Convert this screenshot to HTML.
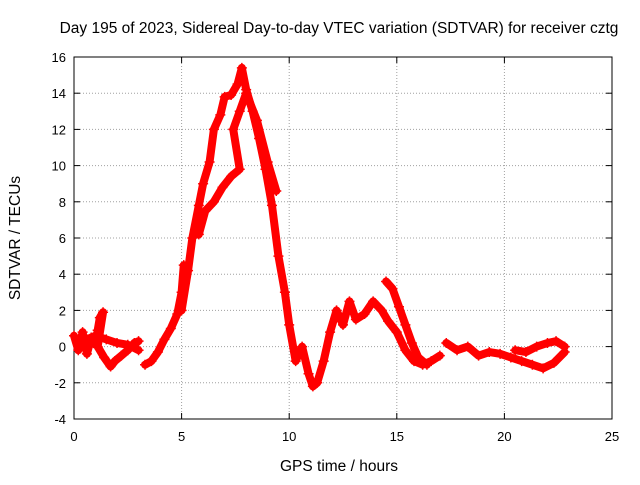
<!DOCTYPE html>
<html><head><meta charset="utf-8"><style>
body{margin:0;background:#fff;}
svg{font-family:"Liberation Sans",sans-serif;font-size:13px;}
</style></head><body>
<svg id="chart" width="640" height="480">
<rect width="640" height="480" fill="#fff"/>
<text x="339" y="33" text-anchor="middle" font-size="15.5">Day 195 of 2023, Sidereal Day-to-day VTEC variation (SDTVAR) for receiver cztg</text>
<text x="339" y="471" text-anchor="middle" font-size="15.5">GPS time / hours</text>
<text transform="translate(20,238) rotate(-90)" text-anchor="middle" font-size="15.5">SDTVAR / TECUs</text>
<g id="grid"></g><g id="axes"></g><g id="series"></g>
</svg>
<script>
const xTicks=[0,5,10,15,20,25];
const yTicks=[-4,-2,0,2,4,6,8,10,12,14,16];
// strands: times (hours) and SDTVAR values
const s1t=[0,0.2,0.4,0.6,0.8,1.0,1.1,1.2,1.35,1.1,1.4,1.7,1.9,2.2,2.5,2.8,3.0];
const s1v=[0.6,-0.2,0.8,-0.4,0.5,0.1,0.9,1.6,1.9,0.0,-0.6,-1.1,-0.8,-0.5,-0.2,0.2,0.3];
const s2t=[0.2,0.6,1.0,1.5,2.0,2.5,3.0];
const s2v=[0.2,0.4,0.6,0.4,0.2,0.1,-0.2];
const s3t=[3.3,3.6,3.9,4.2,4.5,4.8,5.0,5.1];
const s3v=[-1.0,-0.8,-0.3,0.4,1.0,1.8,3.0,4.5];
const s4t=[5.0,5.3,5.5,5.8,6.0,6.3,6.5,6.8,7.0,7.3,7.6,7.8,8.0,8.3,8.6,8.9,9.2,9.5,9.8,10.0,10.3,10.6,10.9,11.1,11.3,11.6,11.9,12.2,12.5,12.8,13.1,13.5,13.9,14.3,14.6,15.0,15.4,15.8,16.2,16.6,17.0];
const s4v=[2.0,4.2,6.0,7.8,9.0,10.2,12.0,12.8,13.8,13.9,14.5,15.4,14.2,13.0,11.5,9.8,7.8,5.0,3.0,1.2,-0.8,0.0,-1.5,-2.2,-2.0,-0.8,0.8,2.0,1.2,2.5,1.5,1.8,2.5,2.0,1.4,0.8,-0.2,-0.8,-1.0,-0.8,-0.5];
const s5t=[5.8,6.1,6.5,6.9,7.3,7.7,7.4,7.7,8.0,8.5,9.0,9.4];
const s5v=[6.2,7.5,8.0,8.8,9.4,9.8,12.0,13.0,14.0,12.5,10.2,8.6];
const s6t=[14.5,14.8,15.1,15.4,15.7,16.0,16.4];
const s6v=[3.6,3.2,2.2,1.2,0.2,-0.6,-1.0];
const s7t=[17.3,17.8,18.3,18.8,19.3,19.8,20.3,20.8,21.3,21.8,22.3,22.8];
const s7v=[0.2,-0.2,0.0,-0.5,-0.3,-0.4,-0.6,-0.8,-1.0,-1.2,-0.9,-0.3];
const s8t=[20.5,21.0,21.5,22.0,22.4,22.8];
const s8v=[-0.2,-0.3,0.0,0.2,0.3,0.0];
const strands=[[s1t,s1v],[s2t,s2v],[s3t,s3v],[s4t,s4v],[s5t,s5v],[s6t,s6v],[s7t,s7v],[s8t,s8v]];
const L=74,R=612,T=57,B=419;
const X=t=>L+(t-0)/25*(R-L);
const Y=v=>B-(v+4)/20*(B-T);
const NS="http://www.w3.org/2000/svg";
function mk(tag,a,p){const e=document.createElementNS(NS,tag);for(const k in a)e.setAttribute(k,a[k]);p.appendChild(e);return e;}
const g=document.getElementById('grid'),ax=document.getElementById('axes'),se=document.getElementById('series');
xTicks.forEach(t=>{
 if(t>0&&t<25){const l=mk('line',{x1:X(t),x2:X(t),y1:T,y2:B,stroke:'#a0a0a0','stroke-dasharray':'1,2'},g);
 }
 mk('line',{x1:X(t),x2:X(t),y1:B,y2:B-6,stroke:'#000'},ax);
 mk('line',{x1:X(t),x2:X(t),y1:T,y2:T+6,stroke:'#000'},ax);
 const tx=mk('text',{x:X(t),y:B+22,'text-anchor':'middle'},ax);tx.textContent=t;
 
});
yTicks.forEach(v=>{
 if(v>-4&&v<16){const l=mk('line',{x1:L,x2:R,y1:Y(v),y2:Y(v),stroke:'#a0a0a0','stroke-dasharray':'1,2'},g);
 }
 mk('line',{x1:L,x2:L+6,y1:Y(v),y2:Y(v),stroke:'#000'},ax);
 mk('line',{x1:R,x2:R-6,y1:Y(v),y2:Y(v),stroke:'#000'},ax);
 const tx=mk('text',{x:L-8,y:Y(v)+5,'text-anchor':'end'},ax);tx.textContent=v;
 
});
const fr=mk('rect',{x:L,y:T,width:R-L,height:B-T,fill:'none',stroke:'#000'},ax);

strands.forEach(([ts,vs])=>{
 const pts=ts.map((t,i)=>X(t)+','+Y(vs[i])).join(' ');
 const pl=mk('polyline',{points:pts,fill:'none',stroke:'#ff0000','stroke-width':8,'stroke-linejoin':'round','stroke-linecap':'round'},se);
 
 ts.forEach((t,i)=>{
  const x=X(t),y=Y(vs[i]);
  const p=mk('path',{d:`M${x-5},${y}H${x+5}M${x},${y-5}V${y+5}`,stroke:'#ff0000','stroke-width':1.5},se);
  
 });
});
</script>
</body></html>
